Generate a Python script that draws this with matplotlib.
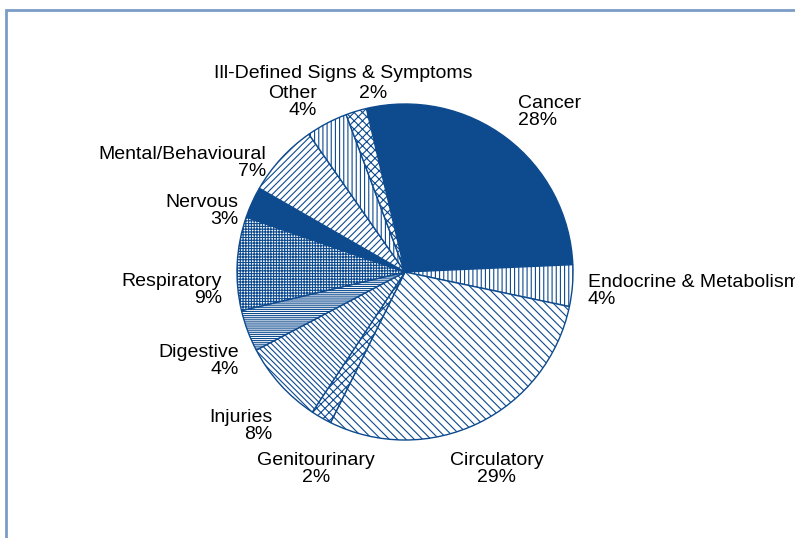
import numpy as np
import matplotlib
matplotlib.use('Agg')
import matplotlib.pyplot as plt
from matplotlib.patches import Rectangle

# causes of death, clockwise from the top
causes = ['Cancer', 'Endocrine & Metabolism', 'Circulatory', 'Genitourinary',
          'Injuries', 'Digestive', 'Respiratory', 'Nervous',
          'Mental/Behavioural', 'Other', 'Ill-Defined Signs & Symptoms']
shares = [28, 4, 29, 2, 8, 4, 9, 3, 7, 4, 2]

BLUE = '#0d4a8e'
hatches = [None, '|' * 4, '\\' * 4, 'x' * 4, '\\' * 6, '-' * 8, '+' * 6,
           None, '/' * 5, '|' * 4, 'x' * 4]
fills = [BLUE, 'white', 'white', 'white', 'white', 'white', 'white', BLUE, 'white', 'white', 'white']
# label nudges in pixels (right, down) from the default spot
nudges = [(-4, -6), (-10, 3), (7, 6), (7, 13), (11, 24), (15, 21),
          (10, 28), (9, 19), (4, 22), (2, 1), (1, 0)]

plt.rcParams['font.family'] = ['Liberation Sans', 'DejaVu Sans']
plt.rcParams['hatch.linewidth'] = 0.8

W, H = 795, 538
cx, cy, R = 405, 272, 168
fig = plt.figure(figsize=(W / 100, H / 100), dpi=100)
ax = fig.add_axes([0, 0, 1, 1])

start = 103.3
wedges, _ = ax.pie(shares, startangle=start, counterclock=False,
                   colors=fills, wedgeprops=dict(edgecolor=BLUE, linewidth=1.0))
for w, h in zip(wedges, hatches):
    if h:
        w.set_hatch(h)

ax.set_xlim(-cx / R, (W - cx) / R)
ax.set_ylim((cy - H) / R, cy / R)
ax.set_aspect('auto')
ax.axis('off')

FS = 14
total = sum(shares)
angle = start
for name, val, (ndx, ndy) in zip(causes, shares, nudges):
    span = 360 * val / total
    mid = np.radians(angle - span / 2)
    angle -= span
    r = 1.15
    x = r * np.cos(mid) + ndx / R
    y = r * np.sin(mid) - ndy / R
    c = np.cos(mid)
    if name == 'Ill-Defined Signs & Symptoms':
        ax.text(x - 0.04, y + 0.03, name, ha='center', va='bottom', fontsize=FS)
        ax.text(x + 0.14, y + 0.01, f'{val}%', ha='center', va='top', fontsize=FS)
        continue
    if name in ('Circulatory', 'Genitourinary'):
        ha = 'center'
        va = 'top'
    else:
        ha = 'left' if c > 0 else 'right'
        va = 'center'
    ax.text(x, y, f'{name}\n{val}%', ha=ha, va=va, fontsize=FS,
            multialignment=ha, linespacing=1.0)

fig.patches.append(Rectangle((6 / W, -0.1), 2.0, (H - 10) / H + 0.1,
                             transform=fig.transFigure, fill=False,
                             edgecolor='#7b9cc7', linewidth=2))

fig.savefig('out.png', dpi=100)
